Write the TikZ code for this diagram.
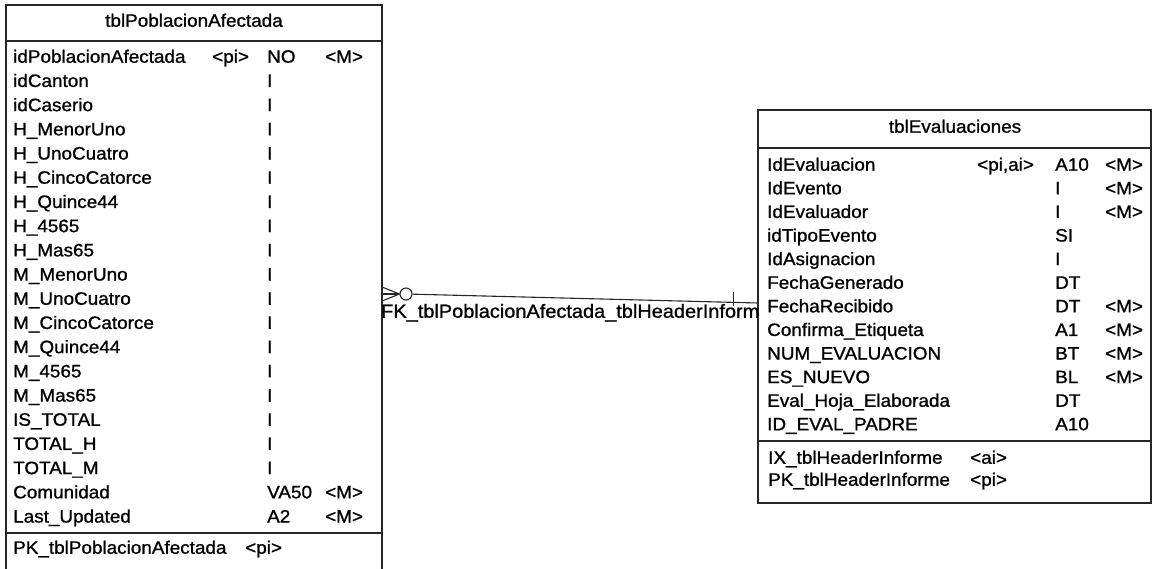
\documentclass[tikz,border=0pt]{standalone}
\usepackage{fontspec}
\setmainfont{Liberation Sans}[FakeStretch=1.05, FakeBold=1]
\usetikzlibrary{calc}

\begin{document}
\begin{tikzpicture}[
    x=1pt, y=-1pt,
    frame/.style={draw=black!85, line width=1.3pt},
    cell/.style={anchor=west, inner sep=0pt, text height=13pt, text depth=3.5pt, font=\fontsize{18}{21}\selectfont},
    title/.style={cell, anchor=center},
    rel/.style={draw=black!85, line width=1.1pt},
]
\useasboundingbox (0,0) rectangle (1155,569);

% tblPoblacionAfectada (runs off the bottom of the page)
\draw[frame] (6,5) rectangle (382,600);
\draw[frame] (6,41) -- (382,41);
\draw[frame] (6,533) -- (382,533);
\node[title] (pa-title) at (194,22) {tblPoblacionAfectada};
\node[cell] (pa-k0) at (212,58) {<pi>};
\foreach \nm/\ty/\mn [count=\i from 0] in {
    idPoblacionAfectada/NO/{<M>}, idCanton/I/{}, idCaserio/I/{},
    H\_MenorUno/I/{}, H\_UnoCuatro/I/{}, H\_CincoCatorce/I/{},
    H\_Quince44/I/{}, H\_4565/I/{}, H\_Mas65/I/{},
    M\_MenorUno/I/{}, M\_UnoCuatro/I/{}, M\_CincoCatorce/I/{},
    M\_Quince44/I/{}, M\_4565/I/{}, M\_Mas65/I/{},
    IS\_TOTAL/I/{}, TOTAL\_H/I/{}, TOTAL\_M/I/{},
    Comunidad/VA50/{<M>}, Last\_Updated/A2/{<M>}}{
  \node[cell] (pa-n\i) at (13,58+24.2*\i) {\nm};
  \node[cell] (pa-t\i) at (267,58+24.2*\i) {\ty};
  \node[cell] (pa-m\i) at (325,58+24.2*\i) {\mn};
}
\node[cell] (pa-pk)  at (13,549) {PK\_tblPoblacionAfectada};
\node[cell] (pa-pki) at (245,549) {<pi>};

% tblEvaluaciones
\draw[frame] (758,110) rectangle (1151,503);
\draw[frame] (758,148) -- (1151,148);
\draw[frame] (758,441) -- (1151,441);
\node[title] (ev-title) at (955,128) {tblEvaluaciones};
\node[cell] (ev-k0) at (977,166) {<pi,ai>};
\foreach \nm/\ty/\mn [count=\i from 0] in {
    IdEvaluacion/A10/{<M>}, IdEvento/I/{<M>}, IdEvaluador/I/{<M>},
    idTipoEvento/SI/{}, IdAsignacion/I/{}, FechaGenerado/DT/{},
    FechaRecibido/DT/{<M>}, Confirma\_Etiqueta/A1/{<M>},
    NUM\_EVALUACION/BT/{<M>}, ES\_NUEVO/BL/{<M>},
    Eval\_Hoja\_Elaborada/DT/{}, ID\_EVAL\_PADRE/A10/{}}{
  \node[cell] (ev-n\i) at (767,166+23.6*\i) {\nm};
  \node[cell] (ev-t\i) at (1055,166+23.6*\i) {\ty};
  \node[cell] (ev-m\i) at (1105,166+23.6*\i) {\mn};
}
\node[cell] (ev-ix)  at (768,459) {IX\_tblHeaderInforme};
\node[cell] (ev-ixk) at (970,459) {<ai>};
\node[cell] (ev-pk)  at (768,481) {PK\_tblHeaderInforme};
\node[cell] (ev-pkk) at (970,481) {<pi>};

% reference FK_tblPoblacionAfectada_tblHeaderInform
\coordinate (fkL) at (382,294);
\coordinate (fkR) at (758,303);
\node[circle, rel, minimum size=12pt, inner sep=0pt] (fkcirc) at (406,294) {};
\draw[rel] ($(fkL)+(0,-7)$) -- (fkcirc.west);
\draw[rel] (fkL) -- (fkcirc.west);
\draw[rel] ($(fkL)+(0,7)$) -- (fkcirc.west);
\draw[rel] (fkcirc) -- (fkR);
\coordinate (fktick) at ($(fkcirc)!0.93!(fkR)$);
\draw[rel] ($(fktick)+(0,-10)$) -- ($(fktick)+(0,4)$);
\node[cell, font=\fontsize{19}{22}\selectfont] (fk-label) at (381,313) {FK\_tblPoblacionAfectada\_tblHeaderInform};

\end{tikzpicture}
\end{document}
